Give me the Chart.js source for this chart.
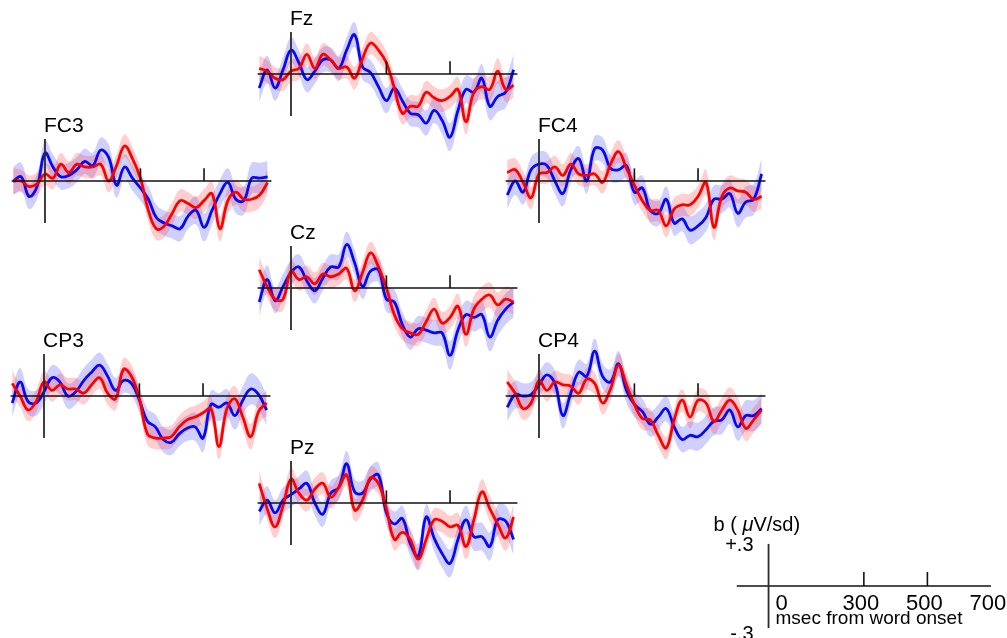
<!DOCTYPE html>
<html>
<head>
<meta charset="utf-8">
<script src="https://cdn.jsdelivr.net/npm/chart.js@4"></script>
<style>
  html, body { margin: 0; padding: 0; background: #fff; width: 1007px; height: 638px; overflow: hidden; }
  canvas { position: absolute; }
</style>
</head>
<body>
<script>
// ---------- DATA ----------
const times = [-100,-75,-50,-25,0,25,50,75,100,125,150,175,200,225,250,275,300,325,350,375,400,425,450,475,500,525,550,575,600,625,650,675,700];

const errBlue = [0.10,0.10,0.09,0.09,0.09,0.09,0.09,0.09,0.09,0.09,0.09,0.09,0.09,0.09,0.09,0.09,0.09,0.09,0.09,0.09,0.09,0.09,0.09,0.10,0.10,0.10,0.10,0.10,0.10,0.10,0.11,0.11,0.11];
const errRed  = [0.09,0.08,0.08,0.08,0.08,0.08,0.08,0.08,0.08,0.08,0.08,0.08,0.08,0.08,0.08,0.08,0.08,0.08,0.08,0.08,0.08,0.08,0.08,0.08,0.08,0.09,0.09,0.09,0.09,0.09,0.09,0.09,0.09];

const fzBlue  = [-0.10,0.03,-0.10,0.03,0.17,0.08,-0.04,0.02,0.10,0.10,0.04,0.17,0.28,0.05,0.01,-0.09,-0.19,-0.10,-0.19,-0.28,-0.29,-0.35,-0.26,-0.33,-0.45,-0.26,-0.11,-0.13,-0.03,-0.23,-0.16,-0.13,0.03];
const fzRed   = [0.04,0.02,-0.03,-0.04,0.02,0.04,0.14,0.04,0.14,0.10,0.04,0.05,-0.03,0.11,0.22,0.17,0.08,-0.10,-0.28,-0.23,-0.23,-0.13,-0.17,-0.19,-0.16,-0.11,-0.34,-0.13,-0.09,-0.11,0.02,-0.11,-0.08];

const fc3Blue = [0.00,0.03,-0.11,-0.04,0.20,0.10,0.03,0.04,0.08,0.14,0.11,0.22,0.17,-0.03,0.10,0.02,-0.05,-0.13,-0.26,-0.30,-0.32,-0.34,-0.25,-0.21,-0.33,-0.21,-0.09,-0.01,-0.13,-0.14,0.02,0.02,0.03];
const fc3Red  = [0.00,0.00,-0.04,-0.02,0.05,0.02,0.12,0.06,0.12,0.10,0.10,0.12,0.00,0.11,0.25,0.16,0.02,-0.21,-0.34,-0.32,-0.23,-0.14,-0.16,-0.19,-0.14,-0.09,-0.34,-0.14,-0.08,-0.13,-0.13,-0.10,-0.01];

const fc4Blue = [-0.10,0.00,-0.08,0.08,0.12,0.11,0.00,-0.09,0.08,0.16,0.00,0.23,0.22,0.09,0.08,0.11,-0.08,-0.05,-0.21,-0.23,-0.13,-0.30,-0.27,-0.35,-0.32,-0.26,-0.13,-0.13,-0.09,-0.23,-0.15,-0.13,0.05];
const fc4Red  = [0.06,0.08,-0.01,-0.12,0.05,0.06,0.10,0.04,0.12,0.05,0.04,0.05,-0.01,0.12,0.21,0.09,-0.03,-0.14,-0.21,-0.21,-0.32,-0.20,-0.17,-0.17,-0.11,-0.01,-0.33,-0.11,-0.05,-0.07,-0.08,-0.13,-0.11];

const czBlue  = [-0.10,0.06,-0.09,0.01,0.11,0.15,0.05,-0.02,0.07,0.15,0.15,0.31,0.18,0.01,0.12,0.13,-0.08,-0.10,-0.26,-0.35,-0.29,-0.30,-0.32,-0.32,-0.48,-0.30,-0.19,-0.21,-0.19,-0.35,-0.23,-0.15,-0.10];
const czRed   = [0.13,0.01,-0.08,-0.08,0.12,0.06,0.08,0.03,0.10,0.08,0.10,0.14,-0.02,0.11,0.25,0.15,0.00,-0.19,-0.29,-0.32,-0.33,-0.24,-0.15,-0.25,-0.21,-0.13,-0.33,-0.15,-0.08,-0.05,-0.12,-0.08,-0.10];

const cp3Blue = [-0.05,0.10,-0.04,-0.05,0.03,0.13,0.10,0.00,0.03,0.11,0.17,0.22,0.14,0.04,0.11,0.09,-0.03,-0.18,-0.22,-0.31,-0.33,-0.27,-0.23,-0.22,-0.30,-0.06,-0.08,-0.05,-0.14,-0.03,0.05,0.01,-0.10];
const cp3Red  = [0.09,0.00,-0.10,-0.04,0.10,0.04,0.08,0.05,0.05,0.02,0.08,0.13,0.02,-0.02,0.19,0.14,-0.02,-0.27,-0.30,-0.30,-0.29,-0.22,-0.17,-0.15,-0.12,-0.09,-0.36,-0.09,-0.02,-0.15,-0.29,-0.11,-0.05];

const cp4Blue = [-0.08,0.01,0.00,0.01,0.08,0.15,0.09,-0.14,0.02,0.17,0.14,0.32,0.14,0.10,0.23,0.04,-0.06,-0.11,-0.20,-0.15,-0.09,-0.22,-0.31,-0.28,-0.29,-0.24,-0.18,-0.17,-0.10,-0.22,-0.14,-0.14,-0.09];
const cp4Red  = [0.10,0.02,-0.09,-0.05,0.11,0.04,0.10,0.08,0.07,0.02,0.12,0.09,-0.05,0.05,0.22,0.08,-0.06,-0.16,-0.17,-0.28,-0.37,-0.17,-0.03,-0.15,-0.03,-0.05,-0.18,-0.10,-0.03,-0.10,-0.23,-0.17,-0.10];

const pzBlue  = [-0.06,0.02,-0.07,0.02,0.06,0.10,0.14,0.00,-0.08,0.07,0.11,0.28,0.08,0.07,0.17,0.20,-0.07,-0.15,-0.11,-0.29,-0.38,-0.10,-0.25,-0.36,-0.43,-0.26,-0.12,-0.24,-0.24,-0.31,-0.12,-0.13,-0.26];
const pzRed   = [0.14,-0.04,-0.17,-0.02,0.17,0.07,0.02,0.10,0.14,0.04,0.11,0.20,-0.05,0.02,0.18,0.14,-0.04,-0.26,-0.21,-0.26,-0.40,-0.26,-0.12,-0.13,-0.17,-0.16,-0.31,-0.12,0.08,-0.04,-0.15,-0.25,-0.10];

const channelNames = ['Fz','FC3','FC4','Cz','CP3','CP4','Pz'];
const blueSeries = [fzBlue, fc3Blue, fc4Blue, czBlue, cp3Blue, cp4Blue, pzBlue];
const redSeries  = [fzRed,  fc3Red,  fc4Red,  czRed,  cp3Red,  cp4Red,  pzRed];

const axisTicks = [300, 500];          // tick marks on zero line (ms)
const scaleTickLabels = ['0','300','500','700'];
const scaleTickValues = [0, 300, 500, 700];
const scaleLimits = ['+.3','-.3'];

// ---------- LAYOUT ----------
const panelOrigins = [[291,74],[45,181],[539,181],[291,288],[44,396],[539,396],[291,503]];
const legendOrigin = [768,586];
const KX = 0.3175;   // px per ms
const KY = 140;      // px per µV/sd
const BLUE = 'rgb(8,8,245)';
const RED = 'rgb(255,0,0)';
const BLUE_BAND = 'rgba(40,40,255,0.22)';
const RED_BAND = 'rgba(255,30,30,0.22)';
const FONT = '"Liberation Sans", Arial, Helvetica, sans-serif';

function placeCanvas(x0, y0, xmin, xmax, ymin, ymax) {
  const c = document.createElement('canvas');
  const w = Math.round((xmax - xmin) * KX);
  const h = Math.round((ymax - ymin) * KY);
  c.width = w; c.height = h;
  c.style.width = w + 'px'; c.style.height = h + 'px';
  c.style.left = (x0 + xmin * KX) + 'px';
  c.style.top = (y0 - ymax * KY) + 'px';
  document.body.appendChild(c);
  return c;
}

const erpAxes = {
  id: 'erpAxes',
  afterDatasetsDraw(chart, args, opts) {
    const ctx = chart.ctx, xs = chart.scales.x, ys = chart.scales.y;
    const X = v => xs.getPixelForValue(v), Y = v => ys.getPixelForValue(v);
    ctx.save();
    ctx.strokeStyle = '#111'; ctx.lineWidth = 1.6;
    ctx.beginPath(); ctx.moveTo(X(opts.zeroFrom), Y(0)); ctx.lineTo(X(opts.zeroTo), Y(0)); ctx.stroke();
    ctx.strokeStyle = '#2a2a2a'; ctx.lineWidth = 1.8;
    ctx.beginPath(); ctx.moveTo(X(0), Y(0.3)); ctx.lineTo(X(0), Y(-0.3)); ctx.stroke();
    ctx.strokeStyle = '#111'; ctx.lineWidth = 1.6;
    axisTicks.forEach(t => {
      ctx.beginPath(); ctx.moveTo(X(t), Y(0)); ctx.lineTo(X(t), Y(opts.tickLen)); ctx.stroke();
    });
    if (opts.label) {
      ctx.fillStyle = '#000';
      ctx.font = '21px ' + FONT;
      ctx.textAlign = 'left'; ctx.textBaseline = 'alphabetic';
      ctx.fillText(opts.label, X(0) - 1, Y(0) - 49);
    }
    if (opts.legend) {
      ctx.fillStyle = '#000';
      ctx.textBaseline = 'alphabetic';
      ctx.font = '20px ' + FONT; ctx.textAlign = 'left';
      let x = X(0) - 55, y = Y(0) - 55;
      ctx.fillText('b ( ', x, y); x += ctx.measureText('b ( ').width;
      ctx.font = 'italic 20px ' + FONT;
      ctx.fillText('\u03bc', x, y); x += ctx.measureText('\u03bc').width;
      ctx.font = '20px ' + FONT;
      ctx.fillText('V/sd)', x, y);
      ctx.font = '20px ' + FONT; ctx.textAlign = 'right';
      ctx.fillText(scaleLimits[0], X(0) - 15, Y(0.3) + 7);
      ctx.fillText(scaleLimits[1], X(0) - 15, Y(-0.3) + 12);
      ctx.font = '22px ' + FONT;
      scaleTickValues.forEach((v, i) => {
        ctx.textAlign = i === 0 ? 'left' : 'center';
        ctx.fillText(scaleTickLabels[i], i === 0 ? X(v) + 7 : X(v) - 3, Y(0) + 24);
      });
      ctx.font = '19px ' + FONT; ctx.textAlign = 'left';
      ctx.fillText('msec from word onset', X(0) + 7, Y(0) + 38);
    }
    ctx.restore();
  }
};
Chart.register(erpAxes);

function baseOptions(xmin, xmax, ymin, ymax, plug) {
  return {
    responsive: false, animation: false, events: [],
    layout: { padding: 0 },
    elements: { point: { radius: 0 } },
    scales: {
      x: { type: 'linear', min: xmin, max: xmax, display: false },
      y: { type: 'linear', min: ymin, max: ymax, display: false }
    },
    plugins: { legend: { display: false }, tooltip: { enabled: false }, title: { display: false }, erpAxes: plug }
  };
}

const XMIN = -110, XMAX = 720, YMIN = -0.62, YMAX = 0.62;

channelNames.forEach((name, i) => {
  const [x0, y0] = panelOrigins[i];
  const canvas = placeCanvas(x0, y0, XMIN, XMAX, YMIN, YMAX);
  const b = blueSeries[i], r = redSeries[i];
  const pts = arr => times.map((t, k) => ({ x: t, y: arr[k] }));
  const up = (arr, e) => times.map((t, k) => ({ x: t, y: arr[k] + e[k] }));
  const lo = (arr, e) => times.map((t, k) => ({ x: t, y: arr[k] - e[k] }));
  new Chart(canvas, {
    type: 'line',
    data: {
      datasets: [
        { data: pts(r), borderColor: RED, borderWidth: 2.8, tension: 0.4, fill: false },
        { data: pts(b), borderColor: BLUE, borderWidth: 2.8, tension: 0.4, fill: false },
        { data: up(r, errRed), borderWidth: 0, borderColor: 'transparent', backgroundColor: RED_BAND, tension: 0.4, fill: '+1' },
        { data: lo(r, errRed), borderWidth: 0, borderColor: 'transparent', tension: 0.4, fill: false },
        { data: up(b, errBlue), borderWidth: 0, borderColor: 'transparent', backgroundColor: BLUE_BAND, tension: 0.4, fill: '+1' },
        { data: lo(b, errBlue), borderWidth: 0, borderColor: 'transparent', tension: 0.4, fill: false }
      ]
    },
    options: baseOptions(XMIN, XMAX, YMIN, YMAX, { label: name, zeroFrom: -105, zeroTo: 712, tickLen: 0.09 })
  });
});

(function () {
  const [x0, y0] = legendOrigin;
  const lxmin = -200, lxmax = 760;
  const canvas = placeCanvas(x0, y0, lxmin, lxmax, YMIN, YMAX);
  new Chart(canvas, {
    type: 'line',
    data: { datasets: [] },
    options: baseOptions(lxmin, lxmax, YMIN, YMAX, { legend: true, zeroFrom: -100, zeroTo: 700, tickLen: 0.1 })
  });
})();
</script>
</body>
</html>
